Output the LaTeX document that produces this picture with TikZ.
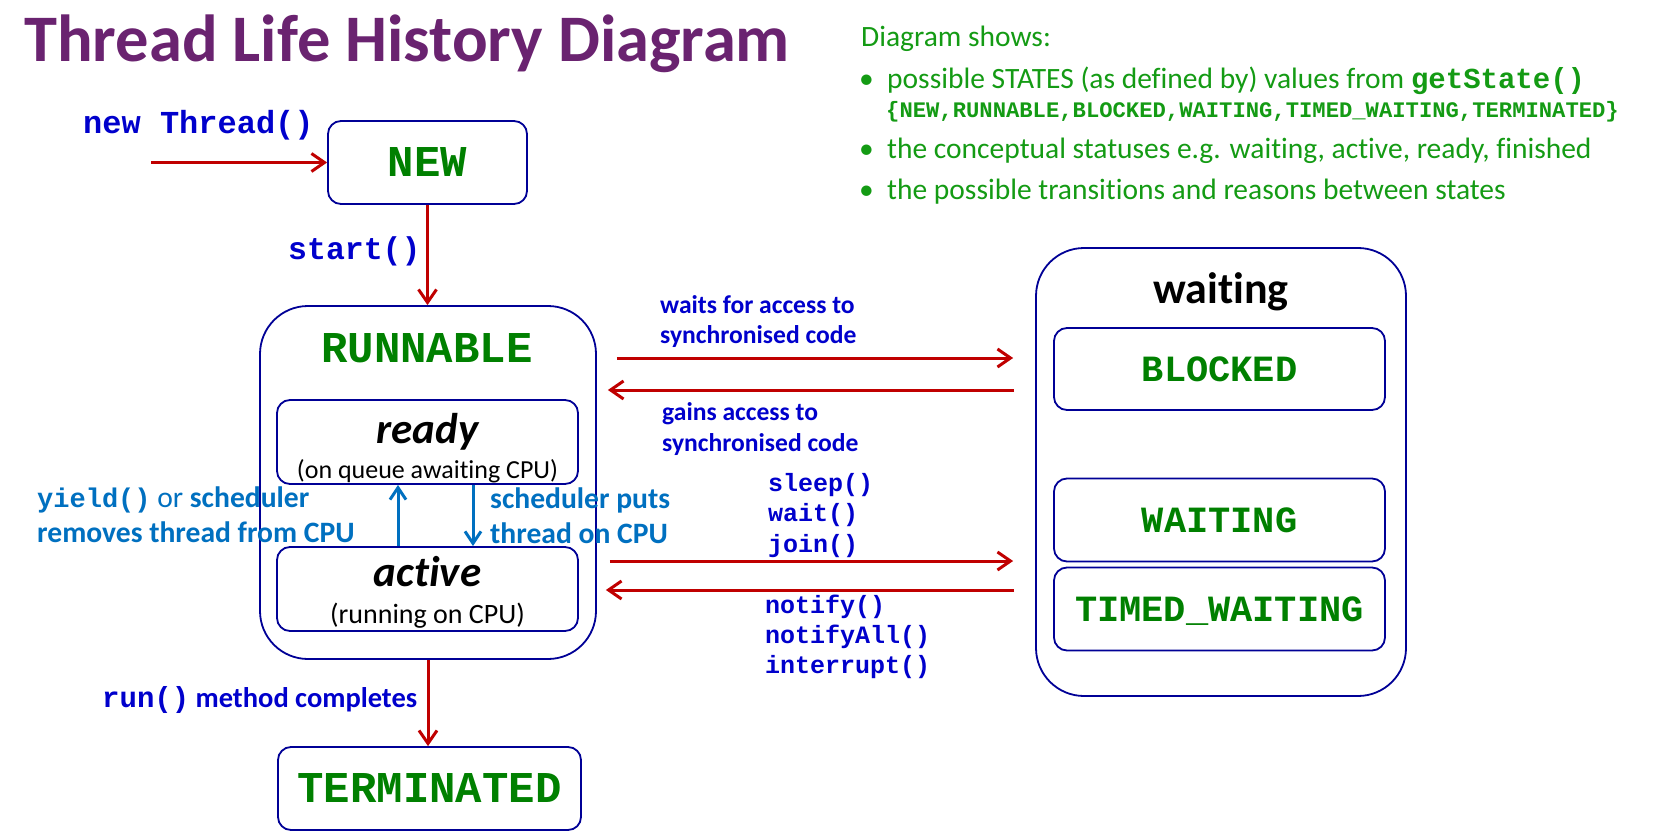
\documentclass[tikz,border=0pt]{standalone}
\usepackage{fontspec}
\setmainfont{Carlito}[Ligatures={NoCommon}]
\newfontfamily\mono{Liberation Mono}
\usetikzlibrary{arrows.meta}
\definecolor{titlepurple}{RGB}{106,35,112}
\definecolor{bulletgreen}{RGB}{20,155,20}
\definecolor{stategreen}{RGB}{0,128,0}
\definecolor{labelblue}{RGB}{0,0,204}
\definecolor{boxblue}{RGB}{0,0,150}
\definecolor{arrowred}{RGB}{192,0,0}
\definecolor{schedblue}{RGB}{0,112,192}
\begin{document}
\begin{tikzpicture}[x=1pt,y=-1pt,
  box/.style={draw=boxblue, line width=1.8pt, rounded corners=13pt, inner sep=0pt, text depth=0pt},
  bigbox/.style={box, rounded corners=48pt},
  txt/.style={inner sep=0pt, anchor=base west},
  ctxt/.style={inner sep=0pt, anchor=base},
  bigstate/.style={font={\mono\bfseries\fontsize{44}{48}\selectfont}, text=stategreen},
  smallstate/.style={font={\mono\bfseries\fontsize{37}{40}\selectfont}, text=stategreen},
  greentext/.style={txt, text=bulletgreen, font={\fontsize{29.5}{33}\selectfont}},
  redarrow/.style={draw=arrowred, line width=3pt, -{Straight Barb[length=13pt,width=18pt]}},
  bluearrow/.style={draw=schedblue, line width=3pt, -{Straight Barb[length=12pt,width=16pt]}},
  bluelbl/.style={txt, text=labelblue, font={\bfseries\fontsize{25.6}{29}\selectfont}},
  monolbl/.style={txt, text=labelblue, font={\mono\bfseries\fontsize{25}{28}\selectfont}},
  schedlbl/.style={txt, text=schedblue, font={\bfseries\fontsize{29.6}{33}\selectfont}},
  stlbl/.style={ctxt, font={\bfseries\itshape\fontsize{43}{47}\selectfont}},
]
\useasboundingbox (0,0) rectangle (1662,834);
\fill[white] (0,0) rectangle (1662,834);

% title
\node[txt, text=titlepurple, font={\bfseries\fontsize{66.5}{72}\selectfont}] (title) at (24,62) {Thread Life History Diagram};

% description
\node[greentext] (ds) at (861,47) {Diagram shows:};
\node[greentext] (d1dot) at (859,89) {•};
\node[greentext] (d1) at (887,89) {possible STATES (as defined by) values from {\mono\bfseries\fontsize{29}{33}\selectfont getState()}};
\node[txt, text=bulletgreen, font={\mono\bfseries\fontsize{22.2}{24}\selectfont}] (d1b) at (886,118) {\{NEW,RUNNABLE,BLOCKED,WAITING,TIMED\_WAITING,TERMINATED\}};
\node[greentext] (d2dot) at (859,159) {•};
\node[greentext] (d2) at (887,159) {the conceptual statuses e.g. waiting, active, ready, finished};
\node[greentext] (d3dot) at (859,200) {•};
\node[greentext] (d3) at (887,200) {the possible transitions and reasons between states};

% NEW
\node[box, bigstate, minimum width=199pt, minimum height=83pt] (new) at (427.5,162.5) {NEW};
\node[txt, text=labelblue, font={\mono\bfseries\fontsize{32}{36}\selectfont}] (newlbl) at (83,134) {new Thread()};
\coordinate (newstart) at (151,162.5);
\draw[redarrow] (newstart) -- (new.west);

% RUNNABLE
\node[bigbox, minimum width=336pt, minimum height=353pt] (runnable) at (428,482.5) {};
\node[ctxt, bigstate] (runlbl) at (427,362) {RUNNABLE};
\draw[redarrow] (new.south) -- (new.south |- runnable.north);
\node[txt, text=labelblue, font={\mono\bfseries\fontsize{31.5}{34}\selectfont}] (startlbl) at (288,260) {start()};

\node[box, minimum width=301pt, minimum height=84pt] (ready) at (427.5,442) {};
\node[stlbl] (readylbl) at (427.5,443) {ready};
\node[ctxt, font={\fontsize{26}{30}\selectfont}] (readysub) at (427.5,478) {(on queue awaiting CPU)};

\node[box, minimum width=301pt, minimum height=84pt] (active) at (427.5,589) {};
\node[stlbl] (activelbl) at (427.5,586) {active};
\node[ctxt, font={\fontsize{28}{32}\selectfont}] (activesub) at (427.5,623) {(running on CPU)};

\coordinate (upx) at (398,0);
\coordinate (dnx) at (473,0);
\draw[bluearrow] (active.north -| upx) -- (ready.south -| upx);
\draw[bluearrow] (ready.south -| dnx) -- (active.north -| dnx);
\node[schedlbl] (yieldlbl) at (37,507) {{\mono\fontsize{27}{30}\selectfont yield()}{\mdseries\ or }scheduler};
\node[schedlbl] (removeslbl) at (37,542) {removes thread from CPU};
\node[schedlbl] (putslbl) at (490,508) {scheduler puts};
\node[schedlbl] (onlbl) at (490,543) {thread on CPU};

% TERMINATED
\node[box, bigstate, minimum width=303pt, minimum height=83pt] (term) at (429.5,788.5) {TERMINATED};
\draw[redarrow] (runnable.south) -- (runnable.south |- term.north);
\node[txt, text=labelblue, font={\bfseries\fontsize{28.5}{32}\selectfont}] (runlbl2) at (102,707) {{\mono\fontsize{29}{32}\selectfont run()} method completes};

% waiting group
\node[bigbox, minimum width=370pt, minimum height=448pt] (waiting) at (1221,472) {};
\node[ctxt, font={\bfseries\fontsize{44}{48}\selectfont}] (waitinglbl) at (1221,303) {waiting};
\node[box, smallstate, minimum width=331pt, minimum height=82pt] (blocked) at (1219.5,369) {BLOCKED};
\node[box, smallstate, minimum width=331pt, minimum height=83pt] (waitst) at (1219.5,520) {WAITING};
\node[box, smallstate, minimum width=331pt, minimum height=83pt] (timed) at (1219.5,609) {TIMED\_WAITING};

% transitions
\coordinate (ya) at (0,358);
\coordinate (yb) at (0,390);
\coordinate (yc) at (0,561);
\coordinate (yd) at (0,590);
\draw[redarrow, shorten <=20pt, shorten >=22pt] (runnable.east |- ya) -- (waiting.west |- ya);
\draw[redarrow, shorten <=21pt, shorten >=11pt] (waiting.west |- yb) -- (runnable.east |- yb);
\draw[redarrow, shorten <=13pt, shorten >=22pt] (runnable.east |- yc) -- (waiting.west |- yc);
\draw[redarrow, shorten <=21pt, shorten >=9pt] (waiting.west |- yd) -- (runnable.east |- yd);

\node[bluelbl] (w1) at (660,313) {waits for access to};
\node[bluelbl] (w2) at (660,343) {synchronised code};
\node[bluelbl] (g1) at (662,420) {gains access to};
\node[bluelbl] (g2) at (662,451) {synchronised code};
\node[monolbl] (sl) at (768,491) {sleep()};
\node[monolbl] (wt) at (768,521) {wait()};
\node[monolbl] (jn) at (768,552) {join()};
\node[monolbl] (nt) at (765,613) {notify()};
\node[monolbl] (na) at (765,643) {notifyAll()};
\node[monolbl] (ir) at (765,673) {interrupt()};
\end{tikzpicture}
\end{document}
